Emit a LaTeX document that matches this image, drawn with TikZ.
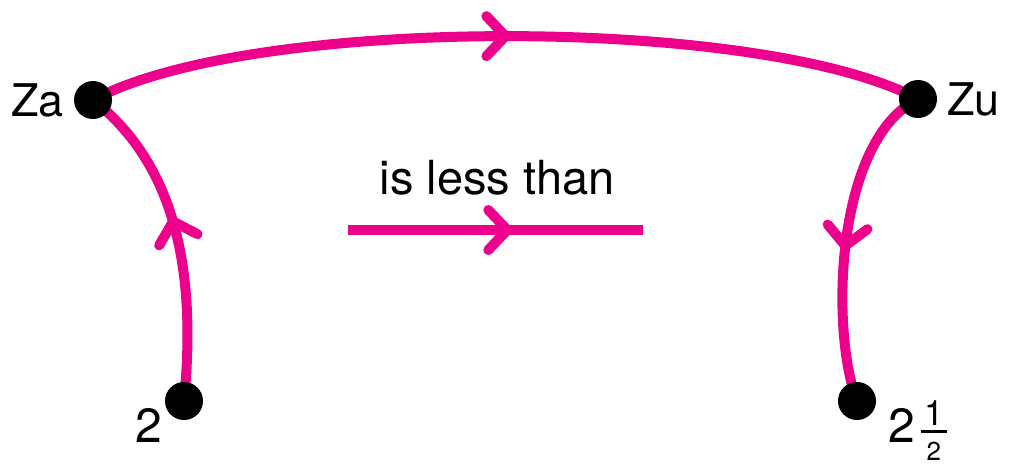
\documentclass[tikz,border=0pt]{standalone}
\usepackage{fontspec}
\setmainfont{TeX Gyre Heros}
\usetikzlibrary{positioning, decorations.markings, backgrounds}
\definecolor{linkmagenta}{HTML}{EC008C}
\tikzset{
  dot/.style={circle, fill=black, inner sep=0pt, minimum size=38pt},
  lbl/.style={inner sep=0pt, font=\fontsize{45}{52}\selectfont},
  numlbl/.style={inner sep=0pt, font=\fontsize{48}{56}\selectfont},
  link/.style={draw=linkmagenta, line width=10pt, line cap=butt},
  midtip/.style={postaction={decorate}, decoration={markings,
    mark=at position #1 with {\draw[linkmagenta, line width=10pt, line cap=round, line join=round]
      (-19pt,20pt) -- (0pt,0pt) -- (-19pt,-20pt);}}},
  midtip/.default=0.5,
}
\newcommand{\halfmark}{%
  \rlap{\raisebox{9.5pt}{\rule{26pt}{3pt}}}%
  \rlap{\makebox[26pt]{\raisebox{17pt}{\fontsize{35}{35}\selectfont 1}}}%
  \makebox[26pt]{\raisebox{-18pt}{\fontsize{26}{26}\selectfont 2}}}

\begin{document}
\begin{tikzpicture}[x=1pt,y=-1pt]
\useasboundingbox (0,0) rectangle (1009,464);

% points
\node[dot] (za) at (93,100) {};
\node[dot] (zu) at (918,99) {};
\node[dot] (two) at (184,401) {};
\node[dot] (twohalf) at (857,401) {};

% labels
\node[lbl, left=10pt of za] (zalbl) {Za};
\node[lbl, right=10pt of zu] (zulbl) {Zu};
\node[numlbl, anchor=base east] (twolbl) at ([xshift=-22pt,yshift=-41pt]two.center) {2};
\node[numlbl, anchor=base west] (halflbl) at ([xshift=31pt,yshift=-41pt]twohalf.center)
  {2\hspace{6pt}\halfmark};

% legend arrow
\coordinate (lnstart) at (348,230);
\coordinate (lnend) at (643,230);
\node[lbl, anchor=base, font=\fontsize{47}{54}\selectfont] (cmplbl) at (497,194) {is less than};
\draw[link, midtip=0.54] (lnstart) -- (lnend);

% connectors
\begin{scope}[on background layer]
\draw[link, midtip] (za.center) .. controls (250,15) and (760,15) .. (zu.center);
\draw[link, midtip=0.55] (two.center) .. controls (198,260) and (170,160) .. (za.center);
\draw[link, midtip=0.52] (zu.center) .. controls (835,140) and (830,330) .. (twohalf.center);
\end{scope}
\end{tikzpicture}
\end{document}
